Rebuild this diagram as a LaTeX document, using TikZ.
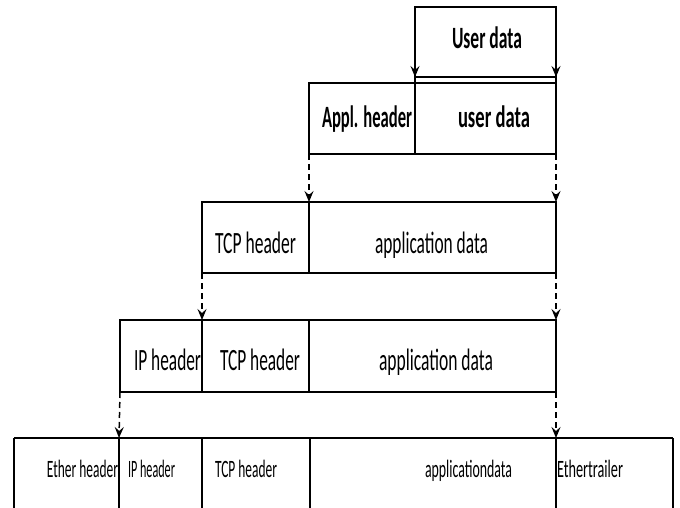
\documentclass[tikz,border=0pt]{standalone}
\usepackage{fontspec}
\setmainfont{Carlito}
\usepackage{graphicx}
\usetikzlibrary{arrows.meta}
\newcommand\fitw[2]{\resizebox{#1}{\height}{#2}}
\tikzset{
  cell/.style={anchor=north west,inner sep=0pt,outer sep=0pt,draw=black,line width=1.5pt},
  opencell/.style={anchor=north west,inner sep=0pt,outer sep=0pt},
  big/.style={anchor=base,inner sep=0pt,font=\fontsize{31}{31}\selectfont,text=black},
  small/.style={anchor=base,inner sep=0pt,font=\fontsize{25}{25}\selectfont,text=black},
  ln/.style={line width=1.5pt,draw=black},
  solidarrow/.style={ln,-{Stealth[length=11pt,width=9pt,inset=4pt]}},
  dasharrow/.style={ln,dash pattern=on 6pt off 4pt,-{Stealth[length=11pt,width=9pt,inset=4pt]}}
}
\begin{document}
\begin{tikzpicture}[x=1pt,y=-1pt]
\useasboundingbox (0,0) rectangle (680,508);
% row 1
\node[cell,minimum width=141pt,minimum height=70pt] (r1) at (415,7) {};
% row 2
\node[cell,minimum width=106pt,minimum height=71pt] (r2a) at (309,83) {};
\node[cell,minimum width=141pt,minimum height=71pt] (r2b) at (415,83) {};
% row 3
\node[cell,minimum width=107pt,minimum height=71pt] (r3a) at (202,202) {};
\node[cell,minimum width=247pt,minimum height=71pt] (r3b) at (309,202) {};
% row 4
\node[cell,minimum width=82pt,minimum height=72pt] (r4a) at (120,320) {};
\node[cell,minimum width=107pt,minimum height=72pt] (r4b) at (202,320) {};
\node[cell,minimum width=247pt,minimum height=72pt] (r4c) at (309,320) {};
% row 5 (bottom cut by the frame)
\node[opencell,minimum width=105pt,minimum height=70pt] (r5a) at (14,438) {};
\node[opencell,minimum width=83pt,minimum height=70pt] (r5b) at (119,438) {};
\node[opencell,minimum width=108pt,minimum height=70pt] (r5c) at (202,438) {};
\node[opencell,minimum width=246pt,minimum height=70pt] (r5d) at (310,438) {};
\node[opencell,minimum width=117pt,minimum height=70pt] (r5e) at (556,438) {};
\draw[ln] (r5a.north west) -- (r5e.north east);
\foreach \c in {r5a,r5b,r5c,r5d,r5e} \draw[ln] (\c.north west) -- (\c.south west);
\draw[ln] (r5e.north east) -- (r5e.south east);

% texts
\node[big] (t1) at (487,49) {\fitw{70pt}{\bfseries User data}};
\node[big] (t2a) at (367,128) {\fitw{90pt}{\bfseries Appl. header}};
\node[big] (t2b) at (494,128) {\fitw{72pt}{\bfseries user data}};
\node[big] (t3a) at (255.5,253) {\fitw{81pt}{TCP header}};
\node[big] (t3b) at (431.5,253) {\fitw{113pt}{application data}};
\node[big] (t4a) at (167.5,370) {\fitw{67pt}{IP header}};
\node[big] (t4b) at (260,370) {\fitw{80pt}{TCP header}};
\node[big] (t4c) at (436,370) {\fitw{114pt}{application data}};
\node[small] (t5a) at (82.5,477) {\fitw{71pt}{Ether header}};
\node[small] (t5b) at (151.5,477) {\fitw{47pt}{IP header}};
\node[small] (t5c) at (246,477) {\fitw{62pt}{TCP header}};
\node[small] (t5d) at (468.5,477) {\fitw{87pt}{applicationdata}};
\node[small] (t5e) at (590,477) {\fitw{66pt}{Ethertrailer}};

% connectors
\draw[solidarrow] (r1.north west) -- (r1.south west);
\draw[solidarrow] (r1.north east) -- (r1.south east);
\draw[ln] (r1.south west) -- (r2b.north west);
\draw[ln] (r1.south east) -- (r2b.north east);
\draw[dasharrow] (r2a.south west) -- (r3b.north west);
\draw[dasharrow] (r2b.south east) -- (r3b.north east);
\draw[dasharrow] (r3a.south west) -- (r4b.north west);
\draw[dasharrow] (r3b.south east) -- (r4c.north east);
\draw[dasharrow] (r4a.south west) -- (r5b.north west);
\draw[dasharrow] (r4c.south east) -- (r5e.north west);
\end{tikzpicture}
\end{document}
